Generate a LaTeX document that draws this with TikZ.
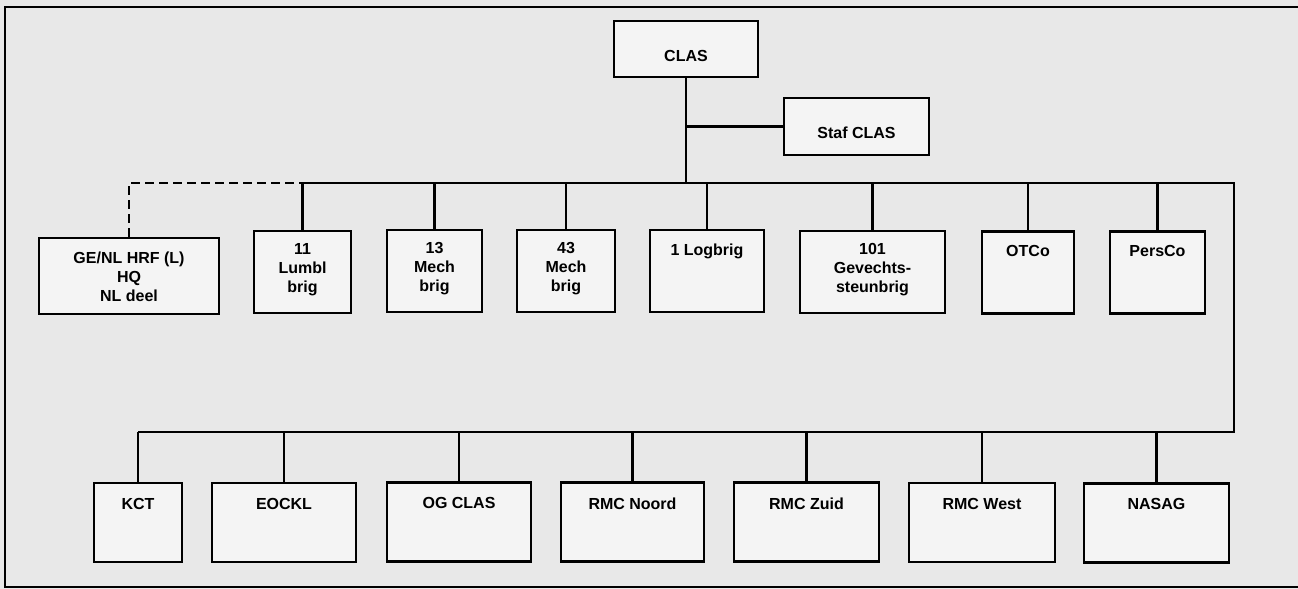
\documentclass[tikz,border=0pt]{standalone}
\usepackage{fontspec}
\setmainfont{Liberation Sans}
\usepackage{tikz}
\usetikzlibrary{calc}

\definecolor{carta}{RGB}{232,232,232}
\definecolor{fondo}{RGB}{244,244,244}

\begin{document}
\begin{tikzpicture}[x=0.5pt,y=-0.5pt]

% Stili per riquadri, scritte e linee
\tikzset{
  unita/.style={draw, line width=1.4pt, fill=fondo, inner sep=0pt, minimum height=41pt},
  testo/.style={anchor=north, inner sep=0pt, yshift=-#1, align=center,
    font=\fontsize{8}{9.5}\selectfont\bfseries},
  testo/.default=7.5pt,
  linea/.style={line width=1.1pt},
  tratteggio/.style={line width=1.1pt, dash pattern=on 4.5pt off 2.5pt}
}

% Sfondo e cornice
\useasboundingbox[fill=carta] (0,0) rectangle (1298,589);
\draw[linea] (1298,7) -- (5,7) -- (5,587) -- (1298,587);

% --- Vertice ---
\node[unita, minimum width=72pt, minimum height=28pt, label={[testo=15pt]north:CLAS}] (clas) at (686,49) {};
\node[unita, minimum width=72.5pt, minimum height=28.5pt, label={[testo=15pt]north:Staf CLAS}] (staf) at (856.5,126.5) {};

% --- Fila superiore ---
\node[unita, minimum width=90pt, minimum height=38pt, label={[testo]north:GE/NL HRF (L)\\HQ\\NL deel}] (genl) at (129,276) {};
\node[unita, minimum width=48.5pt, label={[testo=6.5pt]north:11\\Lumbl\\brig}] (lumbl) at (302.5,272) {};
\node[unita, minimum width=47.5pt, label={[testo=6.5pt]north:13\\Mech\\brig}] (mech13) at (434.5,271) {};
\node[unita, minimum width=49pt, label={[testo=6.5pt]north:43\\Mech\\brig}] (mech43) at (566,271) {};
\node[unita, minimum width=57pt, label={[testo]north:1 Logbrig}] (logbrig) at (707,271) {};
\node[unita, minimum width=72.5pt, label={[testo=6.5pt]north:101\\Gevechts-\\steunbrig}] (gevst) at (872.5,272) {};
\node[unita, minimum width=46pt, label={[testo]north:OTCo}] (otco) at (1028,272.5) {};
\node[unita, minimum width=47.5pt, label={[testo]north:PersCo}] (persco) at (1157.5,272.5) {};

% --- Fila inferiore ---
\node[unita, minimum width=44pt, minimum height=39.5pt, label={[testo=8pt]north:KCT}] (kct) at (138,522.5) {};
\node[unita, minimum width=72pt, minimum height=39.5pt, label={[testo=8pt]north:EOCKL}] (eockl) at (284,522.5) {};
\node[unita, minimum width=72pt, minimum height=39.5pt, label={[testo=8pt]north:OG CLAS}] (ogclas) at (459,522) {};
\node[unita, minimum width=71.5pt, minimum height=39.5pt, label={[testo=8pt]north:RMC Noord}] (noord) at (632.5,522) {};
\node[unita, minimum width=72.5pt, minimum height=39.5pt, label={[testo=8pt]north:RMC Zuid}] (zuid) at (806.5,522) {};
\node[unita, minimum width=73pt, minimum height=39.5pt, label={[testo=8pt]north:RMC West}] (west) at (982,522.5) {};
\node[unita, minimum width=72.5pt, minimum height=39.5pt, label={[testo=8pt]north:NASAG}] (nasag) at (1156.5,523) {};

% Punti di raccordo delle linee
\coordinate (bus) at (685,183);
\coordinate (angolo) at (1234,183);
\coordinate (base) at (1234,432);

% Collegamenti
\draw[linea] (clas.south) -- (clas.south |- bus);
\draw[linea] (staf.west) -- (staf.west -| clas.south);
\draw[linea] (lumbl.north |- bus) -- (angolo) -- (base) -- (kct.north |- base);
\draw[tratteggio] (genl.north) -- (genl.north |- bus) -- (lumbl.north |- bus);
\foreach \n in {lumbl,mech13,mech43,logbrig,gevst,otco,persco}
  \draw[linea] (\n.north) -- (\n.north |- bus);
\foreach \n in {kct,eockl,ogclas,noord,zuid,west,nasag}
  \draw[linea] (\n.north) -- (\n.north |- base);
\end{tikzpicture}
\end{document}
